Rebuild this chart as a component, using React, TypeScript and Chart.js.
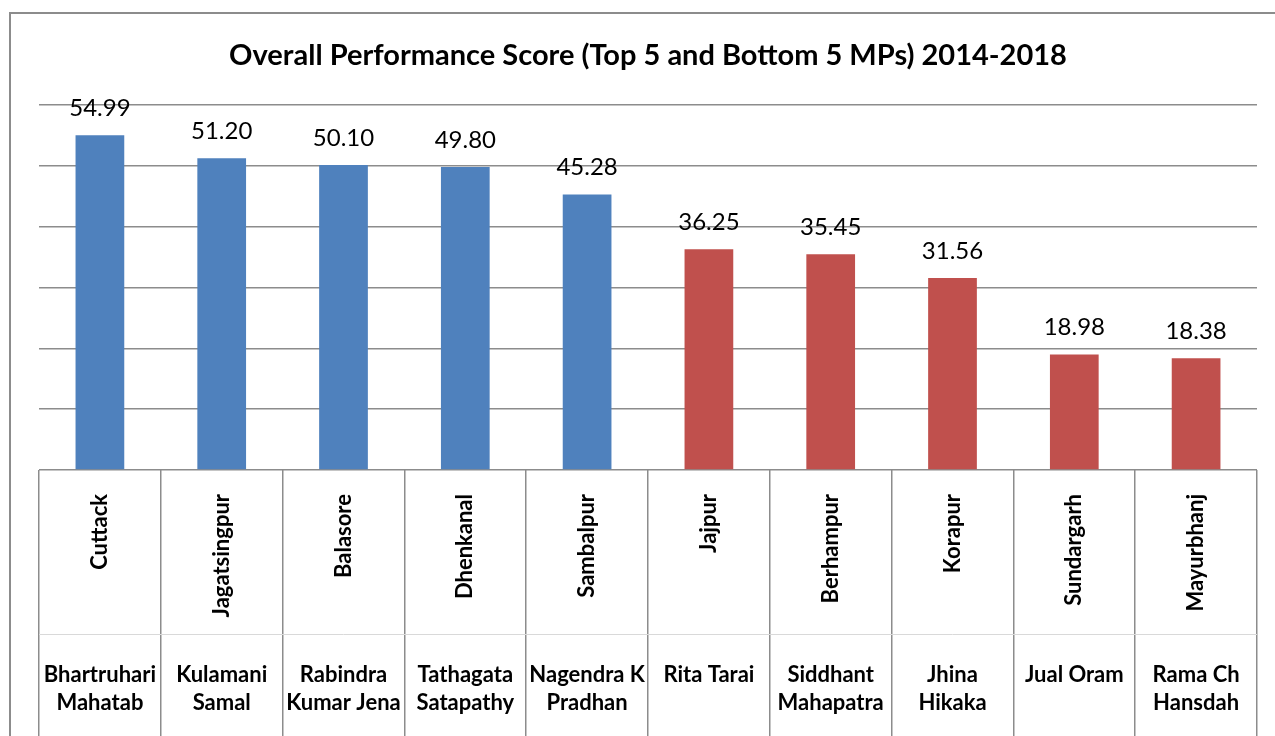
import { useEffect, useRef } from "react";
import { Chart, registerables } from "chart.js";

Chart.register(...registerables);

const districts = [
  "Cuttack",
  "Jagatsingpur",
  "Balasore",
  "Dhenkanal",
  "Sambalpur",
  "Jajpur",
  "Berhampur",
  "Korapur",
  "Sundargarh",
  "Mayurbhanj",
];

const mpNames = [
  ["Bhartruhari", "Mahatab"],
  ["Kulamani", "Samal"],
  ["Rabindra", "Kumar Jena"],
  ["Tathagata", "Satapathy"],
  ["Nagendra K", "Pradhan"],
  ["Rita Tarai"],
  ["Siddhant", "Mahapatra"],
  ["Jhina", "Hikaka"],
  ["Jual Oram"],
  ["Rama Ch", "Hansdah"],
];

const scores = [54.99, 51.2, 50.1, 49.8, 45.28, 36.25, 35.45, 31.56, 18.98, 18.38];

const groups = ["top", "top", "top", "top", "top", "bottom", "bottom", "bottom", "bottom", "bottom"];

const yMin = 0;
const yMax = 60;
const yStep = 10;

const TITLE = "Overall Performance Score (Top 5 and Bottom 5 MPs) 2014-2018";
const FONT = "Lato, 'Open Sans', sans-serif";
const BLUE = "#4F81BD";
const RED = "#C0504D";

const decorPlugin = {
  id: "excelDecor",
  afterDraw(chart: any) {
    const ctx = chart.ctx as CanvasRenderingContext2D;
    const area = chart.chartArea;
    const xScale = chart.scales.x;
    const meta = chart.getDatasetMeta(0);
    ctx.save();

    // outer chart frame
    ctx.strokeStyle = "#8c8c8c";
    ctx.lineWidth = 2;
    ctx.beginPath();
    ctx.moveTo(10, chart.height);
    ctx.lineTo(10, 13);
    ctx.lineTo(chart.width, 13);
    ctx.stroke();

    // data labels
    ctx.fillStyle = "#000";
    ctx.font = `normal 24px ${FONT}`;
    ctx.textAlign = "center";
    ctx.textBaseline = "middle";
    meta.data.forEach((bar: any, i: number) => {
      ctx.fillText(scores[i].toFixed(2), bar.x, bar.y - 27);
    });

    // separator between district and MP rows
    const sepY = area.bottom + 164;
    ctx.strokeStyle = "#d9d9d9";
    ctx.lineWidth = 1;
    ctx.beginPath();
    ctx.moveTo(area.left, sepY + 0.5);
    ctx.lineTo(area.right, sepY + 0.5);
    ctx.stroke();

    // district labels (rotated)
    ctx.fillStyle = "#000";
    ctx.font = `bold 22px ${FONT}`;
    districts.forEach((d, i) => {
      const x = xScale.getPixelForValue(i);
      ctx.save();
      ctx.translate(x, area.bottom + 24);
      ctx.rotate(-Math.PI / 2);
      ctx.textAlign = "right";
      ctx.textBaseline = "middle";
      ctx.fillText(d, 0, 0);
      ctx.restore();
    });

    // MP names
    ctx.font = `bold 22px ${FONT}`;
    ctx.textAlign = "center";
    ctx.textBaseline = "middle";
    mpNames.forEach((lines, i) => {
      const x = xScale.getPixelForValue(i);
      lines.forEach((ln, j) => {
        ctx.fillText(ln, x, area.bottom + 205 + j * 28);
      });
    });

    ctx.restore();
  },
};

export default function App() {
  const ref = useRef<HTMLCanvasElement | null>(null);

  useEffect(() => {
    if (!ref.current) return;
    const chart = new Chart(ref.current, {
      type: "bar",
      data: {
        labels: districts,
        datasets: [
          {
            data: scores,
            backgroundColor: groups.map((g) => (g === "top" ? BLUE : RED)),
            borderWidth: 0,
            barPercentage: 0.4,
            categoryPercentage: 1,
          },
        ],
      },
      options: {
        animation: false,
        responsive: true,
        maintainAspectRatio: false,
        layout: { padding: { left: 39, right: 18, top: 0, bottom: 0 } },
        plugins: {
          legend: { display: false },
          tooltip: { enabled: false },
          title: {
            display: true,
            text: TITLE,
            color: "#000",
            font: { family: FONT, size: 29, weight: "bold" },
            padding: { top: 38, bottom: 32 },
          },
        },
        scales: {
          x: {
            type: "category",
            offset: true,
            grid: {
              display: true,
              offset: true,
              drawOnChartArea: false,
              drawTicks: true,
              tickLength: 266,
              color: "#8c8c8c",
              lineWidth: 1.5,
            },
            border: { display: false },
            ticks: { display: false },
          },
          y: {
            min: yMin,
            max: yMax,
            ticks: { display: false, stepSize: yStep },
            grid: { color: "#8c8c8c", lineWidth: 1.5, drawTicks: false },
            border: { display: false },
          },
        },
      },
      plugins: [decorPlugin],
    });
    return () => chart.destroy();
  }, []);

  return (
    <div style={{ position: "fixed", left: 0, top: 0, width: 1275, height: 736, background: "#fff" }}>
      <canvas ref={ref} />
    </div>
  );
}
